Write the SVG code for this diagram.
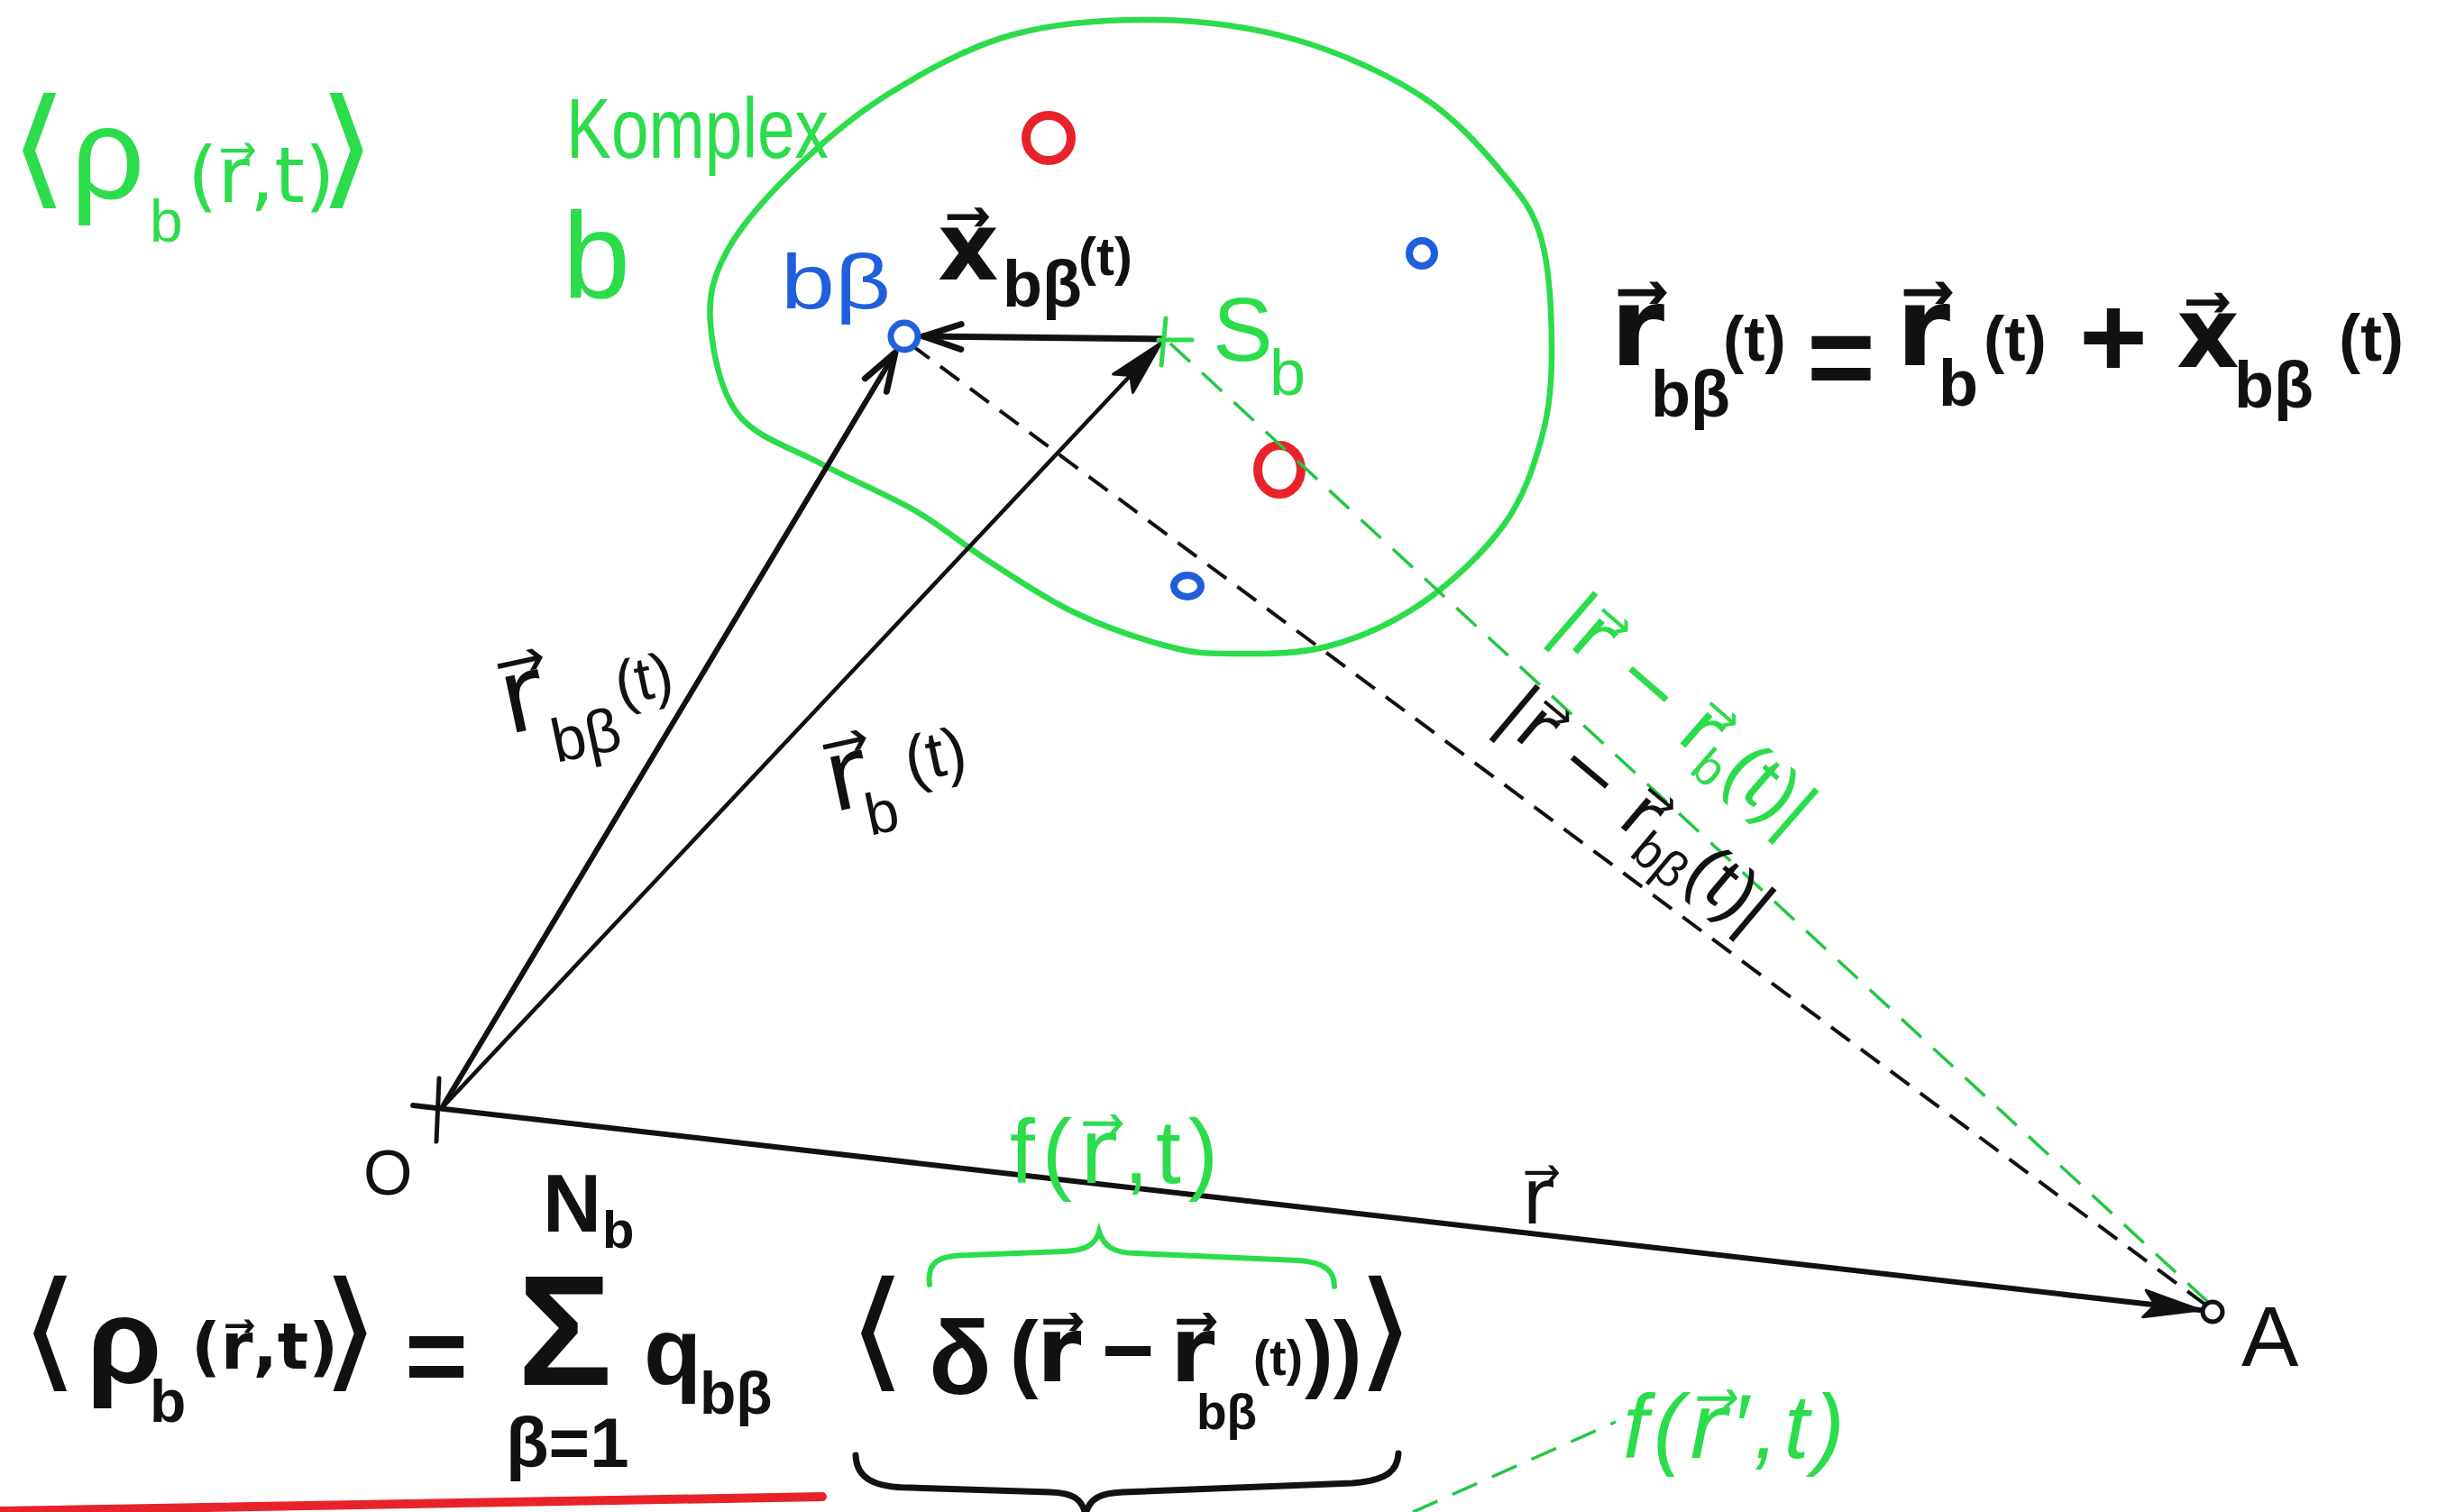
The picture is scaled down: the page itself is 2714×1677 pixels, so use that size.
<svg xmlns="http://www.w3.org/2000/svg" width="2714" height="1677" viewBox="0 0 2714 1677">
<style>
text { font-family: "Liberation Sans", "DejaVu Sans", sans-serif; }
.v { font-family: "DejaVu Sans", sans-serif; }
.b { font-weight: bold; }
.g { fill: #2bdc4b; }
.k { fill: #111; }
.bl { fill: #1f5fdc; }
.ln { stroke: #111; fill: none; stroke-linecap: round; }
.gl { stroke: #2bdc4b; fill: none; stroke-linecap: round; }
.dk { stroke: #111; stroke-width: 4; stroke-dasharray: 26 15; fill: none; }
.dg { stroke: #22c744; stroke-width: 3.5; stroke-dasharray: 30 18; fill: none; }
</style>
<defs>
<marker id="open" markerUnits="userSpaceOnUse" markerWidth="60" markerHeight="40" viewBox="-50 -20 60 40" refX="0" refY="0" orient="auto">
<path d="M-42,-14 L0,0 L-42,14" fill="none" stroke="#111" stroke-width="7" stroke-linecap="round" stroke-linejoin="round"/>
</marker>
<marker id="fill" markerUnits="userSpaceOnUse" markerWidth="80" markerHeight="40" viewBox="-70 -20 80 40" refX="0" refY="0" orient="auto">
<path d="M-62,-15 L0,0 L-62,15 L-50,0 Z" fill="#111" stroke="#111" stroke-width="3" stroke-linejoin="round"/>
</marker>
</defs>
<rect width="2714" height="1677" fill="#fff"/>

<g id="complex">
<path class="gl" stroke-width="6.5" d="M788,359 C785.7,329.2 790.5,308.5 805,281 S845.7,223 875,194 S940,132.8 981,107 S1070.8,53.2 1121,39 S1229.3,21.2 1282,22 S1387.8,29.8 1437,44 S1538.5,82 1577,107 S1645.8,167.3 1668,194 S1701.2,234.7 1710,267 S1721,351.7 1721,388 S1718.8,452.7 1710,485 S1690.2,551.3 1668,582 S1609.7,646.5 1577,669 S1507.2,707.7 1472,717 S1395.3,725 1366,725 S1325.2,724.7 1296,717 S1224.8,695.2 1191,679 S1122.2,638.7 1093,620 S1046.5,584.7 1016,567 S942.8,531.8 910,514 S839.3,485.8 819,460 S790.3,388.8 788,359 Z"/>
<text class="g" font-size="95" x="628" y="175" textLength="291" lengthAdjust="spacingAndGlyphs">Komplex</text>
<text class="g" font-size="135" x="624" y="330">b</text>
</g>

<g id="particles">
<circle cx="1163" cy="153" r="25" fill="none" stroke="#e8222a" stroke-width="10"/>
<ellipse cx="1419" cy="521" rx="24" ry="27" fill="none" stroke="#e8222a" stroke-width="10"/>
<circle cx="1577" cy="281" r="14" fill="none" stroke="#1f5fdc" stroke-width="8"/>
<ellipse cx="1317" cy="650" rx="15" ry="12" fill="none" stroke="#1f5fdc" stroke-width="8"/>
</g>

<g id="connectors">
<line class="dk" x1="1010" y1="382" x2="2446" y2="1447"/>
<line class="dg" x1="1298" y1="381" x2="2452" y2="1447"/>
<line class="dg" x1="1567" y1="1677" x2="1792" y2="1577"/>
<line class="ln" stroke-width="6" x1="490" y1="1229" x2="993" y2="391" marker-end="url(#open)"/>
<line class="ln" stroke-width="4.5" x1="490" y1="1229" x2="1288" y2="380" marker-end="url(#fill)"/>
<line class="ln" stroke-width="7" x1="1289" y1="376" x2="1024" y2="373" marker-end="url(#open)"/>
<line class="ln" stroke-width="6" x1="458" y1="1226" x2="2440" y2="1453" marker-end="url(#fill)"/>
</g>

<g id="node-O">
<line class="ln" stroke-width="5" x1="487" y1="1196" x2="484" y2="1266"/>
<text class="k" font-size="70" x="403" y="1325">O</text>
</g>

<g id="node-bbeta">
<circle cx="1003" cy="373" r="15" fill="#fff" stroke="#1f5fdc" stroke-width="7"/>
<text class="bl" font-size="85" x="866" y="342" textLength="122" lengthAdjust="spacingAndGlyphs">bβ</text>
</g>

<g id="node-Sb">
<line class="gl" stroke-width="5" x1="1293" y1="353" x2="1288" y2="405"/>
<line class="gl" stroke-width="5" x1="1285" y1="377" x2="1322" y2="377"/>
<text class="g"><tspan x="1345" y="400" font-size="100">S</tspan><tspan x="1408" y="438" font-size="72">b</tspan></text>
</g>

<g id="node-A">
<circle cx="2454" cy="1455" r="11" fill="#fff" stroke="#111" stroke-width="5"/>
<text class="k" font-size="95" x="2486" y="1515">A</text>
</g>

<g id="labels">
<text class="g" font-size="125" transform="translate(10,212) scale(1.35,1.15)">⟨</text>
<text class="g"><tspan x="78" y="220" font-size="145">ρ</tspan><tspan x="166" y="268" font-size="66">b</tspan><tspan class="v" x="208" y="224" font-size="86">(r⃗,t)</tspan></text>
<text class="g" font-size="125" transform="translate(352,212) scale(1.35,1.15)">⟩</text>

<text class="k b"><tspan class="v" x="1040" y="310" font-size="105">x⃗</tspan><tspan x="1112" y="340" font-size="72">bβ</tspan><tspan x="1196" y="305" font-size="60">(t)</tspan></text>

<text class="k b"><tspan class="v" x="1786" y="405" font-size="122">r⃗</tspan><tspan x="1831" y="462" font-size="72">bβ</tspan><tspan x="1911" y="400" font-size="70">(t)</tspan><tspan x="2004" y="440" font-size="130">=</tspan><tspan class="v" x="2103" y="405" font-size="122">r⃗</tspan><tspan x="2150" y="450" font-size="72">b</tspan><tspan x="2200" y="400" font-size="70">(t)</tspan><tspan x="2306" y="418" font-size="130">+</tspan><tspan class="v" x="2414" y="407" font-size="108">x⃗</tspan><tspan x="2478" y="452" font-size="72">bβ</tspan><tspan x="2594" y="400" font-size="72">(t)</tspan></text>

<text class="k" transform="rotate(-12 650 790)"><tspan class="v" x="560" y="796" font-size="115">r⃗</tspan><tspan x="606" y="838" font-size="68">bβ</tspan><tspan x="688" y="790" font-size="68">(t)</tspan></text>

<text class="k" transform="rotate(-12 1000 860)"><tspan class="v" x="917" y="884" font-size="110">r⃗</tspan><tspan x="952" y="918" font-size="65">b</tspan><tspan x="1007" y="870" font-size="72">(t)</tspan></text>

<text class="g" transform="translate(1717,697) rotate(41)" font-size="84"><tspan class="v">|r⃗ − r⃗</tspan><tspan font-size="55" dy="18">b</tspan><tspan dy="-18">(t)|</tspan></text>

<text class="k" transform="translate(1656,799) rotate(40)" font-size="80"><tspan class="v">|r⃗ − r⃗</tspan><tspan font-size="55" dy="18">bβ</tspan><tspan dy="-18">(t)|</tspan></text>

<text class="k v" font-size="85" x="1688" y="1357">r⃗</text>

<text class="g" font-size="100" x="1120" y="1312" letter-spacing="8"><tspan>f(</tspan><tspan class="v">r⃗</tspan><tspan>,t)</tspan></text>

<text class="g" font-size="100" x="1800" y="1617" font-style="italic" letter-spacing="6"><tspan>f(</tspan><tspan class="v">r⃗</tspan><tspan>′,t)</tspan></text>
</g>

<g id="formula">
<text class="k" font-size="120" transform="translate(22,1524) scale(1.4,1.2)">⟨</text>
<text class="k b"><tspan x="96" y="1534" font-size="135">ρ</tspan><tspan x="166" y="1577" font-size="66">b</tspan><tspan class="v" x="212" y="1518" font-size="72">(r⃗,t)</tspan></text>
<text class="k" font-size="120" transform="translate(356,1524) scale(1.4,1.2)">⟩</text>
<text class="k b"><tspan x="449" y="1545" font-size="120">=</tspan><tspan x="574" y="1536" font-size="175">Σ</tspan><tspan x="602" y="1366" font-size="90">N</tspan><tspan x="668" y="1384" font-size="58">b</tspan><tspan x="561" y="1627" font-size="78">β=1</tspan><tspan x="714" y="1535" font-size="105">q</tspan><tspan x="776" y="1568" font-size="66">bβ</tspan></text>
<text class="k" font-size="120" transform="translate(940,1524) scale(1.4,1.2)">⟨</text>
<text class="k b"><tspan x="1030" y="1546" font-size="115">δ</tspan><tspan x="1120" y="1532" font-size="95">(</tspan><tspan class="v" x="1150" y="1532" font-size="100">r⃗</tspan><tspan x="1222" y="1532" font-size="100">−</tspan><tspan class="v" x="1298" y="1532" font-size="100">r⃗</tspan><tspan x="1327" y="1585" font-size="55">bβ</tspan><tspan x="1390" y="1525" font-size="55">(t)</tspan><tspan x="1447" y="1532" font-size="95">))</tspan></text>
<text class="k" font-size="120" transform="translate(1504,1524) scale(1.4,1.2)">⟩</text>
<path class="gl" stroke-width="6" d="M1031,1425 C1028,1400 1040,1392 1075,1392 L1180,1388 C1205,1387 1215,1380 1219,1366 C1224,1382 1235,1390 1260,1390 L1440,1398 C1470,1400 1480,1410 1480,1427"/>
<path class="ln" stroke-width="7" d="M949,1614 C950,1640 970,1650 1010,1650 L1165,1655 C1190,1656 1200,1662 1204,1680 C1208,1662 1220,1656 1245,1655 L1500,1645 C1540,1642 1550,1630 1551,1612"/>
<path d="M0,1676 L912,1660" stroke="#e8222a" stroke-width="10" stroke-linecap="round" fill="none"/>
</g>
</svg>
